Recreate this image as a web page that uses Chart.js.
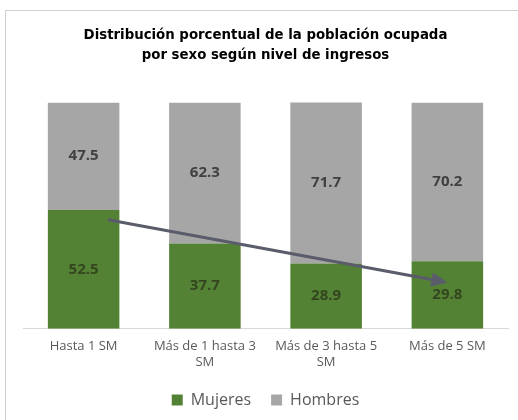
<!DOCTYPE html>
<html>
<head>
<meta charset="utf-8">
<script src="https://cdn.jsdelivr.net/npm/chart.js@4.4.1/dist/chart.umd.min.js"></script>
<style>
	html, body { margin: 0; padding: 0; background: #fff; overflow: hidden; }
	.frame { position: absolute; left: 5px; top: 10px; width: 600px; height: 500px; border: 1px solid #cfcfcf; }
	.wrap { position: absolute; left: 0; top: 0; width: 518px; height: 420px; }
</style>
</head>
<body>
<div class="frame"></div>
<div class="wrap"><canvas id="chart"></canvas></div>
<script>
const categories = ['Hasta 1 SM', ['Más de 1 hasta 3', 'SM'], ['Más de 3 hasta 5', 'SM'], 'Más de 5 SM'];
const mujeres = [52.5, 37.7, 28.9, 29.8];
const hombres = [47.5, 62.3, 71.7, 70.2];
// arrow drawn in data space: [category index, percent]
const arrowFrom = [0.2, 48.2];
const arrowTo = [3.0, 20.5];

const GREEN = '#548235';
const GRAY = '#a6a6a6';

// value labels centred in each segment
const segmentLabels = {
	id: 'segmentLabels',
	afterDatasetsDraw(chart) {
		const ctx = chart.ctx;
		ctx.save();
		ctx.font = 'bold 15px "Open Sans", sans-serif';
		ctx.textAlign = 'center';
		ctx.textBaseline = 'middle';
		chart.data.datasets.forEach((ds, i) => {
			const meta = chart.getDatasetMeta(i);
			ctx.fillStyle = i === 0 ? '#34461f' : '#404040';
			meta.data.forEach((bar, j) => {
				const y = (bar.y + bar.base) / 2;
				ctx.fillText(ds.data[j].toFixed(1), bar.x, y);
			});
		});
		ctx.restore();
	}
};

const trendArrow = {
	id: 'trendArrow',
	afterDatasetsDraw(chart) {
		const x = chart.scales.x, y = chart.scales.y, ctx = chart.ctx;
		const x1 = x.getPixelForValue(arrowFrom[0]), y1 = y.getPixelForValue(arrowFrom[1]);
		const x2 = x.getPixelForValue(arrowTo[0]), y2 = y.getPixelForValue(arrowTo[1]);
		const ang = Math.atan2(y2 - y1, x2 - x1);
		const head = 16, half = 7;
		const bx = x2 - head * Math.cos(ang), by = y2 - head * Math.sin(ang);
		ctx.save();
		ctx.strokeStyle = '#5a5b6b';
		ctx.fillStyle = '#5a5b6b';
		ctx.lineWidth = 3;
		ctx.beginPath();
		ctx.moveTo(x1, y1);
		ctx.lineTo(bx, by);
		ctx.stroke();
		ctx.beginPath();
		ctx.moveTo(x2, y2);
		ctx.lineTo(bx + half * Math.sin(ang), by - half * Math.cos(ang));
		ctx.lineTo(bx - half * Math.sin(ang), by + half * Math.cos(ang));
		ctx.closePath();
		ctx.fill();
		ctx.restore();
	}
};

new Chart(document.getElementById('chart'), {
	type: 'bar',
	data: {
		labels: categories,
		datasets: [
			{ label: 'Mujeres', data: mujeres, backgroundColor: GREEN },
			{ label: 'Hombres', data: hombres, backgroundColor: GRAY }
		]
	},
	options: {
		responsive: true,
		maintainAspectRatio: false,
		animation: false,
		events: [],
		categoryPercentage: 1,
		barPercentage: 0.59,
		layout: { padding: { left: 23, right: 10, top: 26, bottom: 2 } },
		scales: {
			x: {
				stacked: true,
				grid: { display: false },
				border: { display: true, color: '#d9d9d9', width: 1 },
				ticks: { color: '#595959', font: { family: '"Open Sans", sans-serif', size: 13 }, maxRotation: 0, padding: 2 }
			},
			y: {
				stacked: true,
				display: false,
				min: 0,
				max: 100
			}
		},
		plugins: {
			title: {
				display: true,
				text: ['Distribución porcentual de la población ocupada', 'por sexo según nivel de ingresos'],
				color: '#000',
				font: { family: '"DejaVu Sans Condensed", "DejaVu Sans", sans-serif', size: 14.8, weight: 'bold', lineHeight: 1.3 },
				padding: { top: 0, bottom: 38 }
			},
			legend: {
				position: 'bottom',
				labels: {
					boxWidth: 11,
					boxHeight: 11,
					padding: 20,
					color: '#595959',
					font: { family: '"Open Sans", sans-serif', size: 16 }
				}
			},
			tooltip: { enabled: false }
		}
	},
	plugins: [segmentLabels, trendArrow]
});
</script>
</body>
</html>
